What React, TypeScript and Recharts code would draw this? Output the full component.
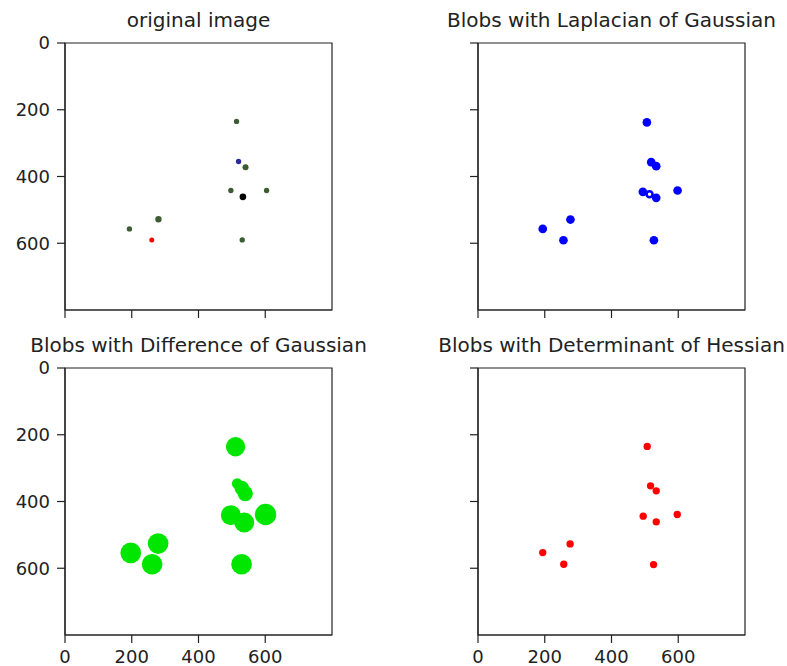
import { ScatterChart, Scatter, XAxis, YAxis, ReferenceArea } from "recharts";

// image is 800x800, blobs given as (x, y, radius) in image pixels
const IMG_SIZE = 800;
const axisTicks = [0, 200, 400, 600];

// original image: coloured dots
const origGreen = [
  { x: 514, y: 235, r: 8 },
  { x: 541, y: 372, r: 9 },
  { x: 497, y: 442, r: 8 },
  { x: 604, y: 442, r: 8 },
  { x: 280, y: 528, r: 9.5 },
  { x: 193, y: 557, r: 8 },
  { x: 531, y: 590, r: 8 },
];
const origBlue = [{ x: 520, y: 355, r: 8 }];
const origBlack = [{ x: 533, y: 461, r: 10 }];
const origRed = [{ x: 260, y: 590, r: 7.5 }];

// Laplacian of Gaussian
const logBlobs = [
  { x: 506, y: 238, r: 13 },
  { x: 519, y: 357, r: 13 },
  { x: 534, y: 369, r: 13 },
  { x: 494, y: 446, r: 13 },
  { x: 534, y: 464, r: 13 },
  { x: 598, y: 442, r: 13 },
  { x: 277, y: 529, r: 13 },
  { x: 194, y: 557, r: 13 },
  { x: 256, y: 591, r: 13 },
  { x: 527, y: 591, r: 13 },
];
const logRings = [{ x: 514, y: 453, r: 9 }];

// Difference of Gaussian
const dogBlobs = [
  { x: 511, y: 236, r: 29 },
  { x: 516, y: 346, r: 16 },
  { x: 530, y: 360, r: 22 },
  { x: 540, y: 376, r: 23 },
  { x: 497, y: 441, r: 30 },
  { x: 537, y: 463, r: 30 },
  { x: 601, y: 439, r: 32 },
  { x: 279, y: 526, r: 31 },
  { x: 197, y: 554, r: 31 },
  { x: 261, y: 588, r: 31 },
  { x: 529, y: 588, r: 31 },
];

// Determinant of Hessian
const dohBlobs = [
  { x: 507, y: 235, r: 11 },
  { x: 517, y: 353, r: 11 },
  { x: 534, y: 368, r: 11 },
  { x: 495, y: 444, r: 11 },
  { x: 597, y: 439, r: 11 },
  { x: 534, y: 461, r: 11 },
  { x: 276, y: 527, r: 11 },
  { x: 194, y: 553, r: 11 },
  { x: 257, y: 588, r: 11 },
  { x: 526, y: 589, r: 11 },
];

const PLOT = 267;
const PX = PLOT / IMG_SIZE;
const FONT = "'DejaVu Sans', sans-serif";
const INK = "#222";

const dot = (color: string) => (p: any) =>
  <circle cx={p.cx} cy={p.cy} r={p.payload.r * PX} fill={color} />;

const ring = (color: string) => (p: any) =>
  <circle cx={p.cx} cy={p.cy} r={p.payload.r * PX} fill="#fff" stroke={color} strokeWidth={2.6} />;

const hiddenTick = () => <g />;

type PanelProps = {
  title: string;
  boxLeft: number;
  boxTop: number;
  showX: boolean;
  showY: boolean;
  children: any;
};

const Panel = ({ title, boxLeft, boxTop, showX, showY, children }: PanelProps) => {
  const width = boxLeft < 300 ? 393 : 374;
  const tickStyle = { fill: INK, fontSize: 18, fontFamily: FONT };
  return (
    <>
      <div
        style={{
          position: "absolute",
          left: boxLeft + PLOT / 2 - 200,
          top: boxTop - 31,
          width: 400,
          textAlign: "center",
          fontFamily: FONT,
          fontSize: 20,
          lineHeight: "16px",
          color: INK,
          whiteSpace: "nowrap",
        }}
      >
        {title}
      </div>
      <div style={{ position: "absolute", left: boxLeft - 65, top: boxTop - 10 }}>
        <ScatterChart
          width={width}
          height={308}
          margin={{ top: 10, right: width - 65 - PLOT, bottom: 0, left: 0 }}
        >
          <XAxis
            type="number"
            dataKey="x"
            domain={[0, IMG_SIZE]}
            ticks={axisTicks}
            interval={0}
            height={31}
            tickSize={8}
            tickMargin={7}
            stroke={INK}
            axisLine={{ stroke: INK, strokeWidth: 1.2 }}
            tickLine={{ stroke: INK, strokeWidth: 1.2 }}
            tick={showX ? tickStyle : hiddenTick}
            allowDataOverflow
          />
          <YAxis
            type="number"
            dataKey="y"
            domain={[0, IMG_SIZE]}
            reversed
            ticks={axisTicks}
            interval={0}
            width={65}
            tickSize={8}
            tickMargin={7}
            stroke={INK}
            axisLine={{ stroke: INK, strokeWidth: 1.2 }}
            tickLine={{ stroke: INK, strokeWidth: 1.2 }}
            tick={showY ? tickStyle : hiddenTick}
            allowDataOverflow
          />
          {children}
          <ReferenceArea
            x1={0}
            x2={IMG_SIZE}
            y1={0}
            y2={IMG_SIZE}
            fill="none"
            stroke={INK}
            strokeWidth={1.2}
          />
        </ScatterChart>
      </div>
    </>
  );
};

export default function App() {
  return (
    <div style={{ position: "absolute", left: 0, top: 0, width: 787, height: 666, background: "#fff" }}>
      <Panel title="original image" boxLeft={65} boxTop={43} showX={false} showY>
        <Scatter data={origGreen} shape={dot("#3e5c33")} isAnimationActive={false} />
        <Scatter data={origBlue} shape={dot("#2c2c9e")} isAnimationActive={false} />
        <Scatter data={origBlack} shape={dot("#000000")} isAnimationActive={false} />
        <Scatter data={origRed} shape={dot("#ff0000")} isAnimationActive={false} />
      </Panel>
      <Panel title="Blobs with Laplacian of Gaussian" boxLeft={478} boxTop={43} showX={false} showY={false}>
        <Scatter data={logBlobs} shape={dot("#0000ff")} isAnimationActive={false} />
        <Scatter data={logRings} shape={ring("#0000ff")} isAnimationActive={false} />
      </Panel>
      <Panel title="Blobs with Difference of Gaussian" boxLeft={65} boxTop={368} showX showY>
        <Scatter data={dogBlobs} shape={dot("#00e600")} isAnimationActive={false} />
      </Panel>
      <Panel title="Blobs with Determinant of Hessian" boxLeft={478} boxTop={368} showX showY={false}>
        <Scatter data={dohBlobs} shape={dot("#ff0000")} isAnimationActive={false} />
      </Panel>
    </div>
  );
}
